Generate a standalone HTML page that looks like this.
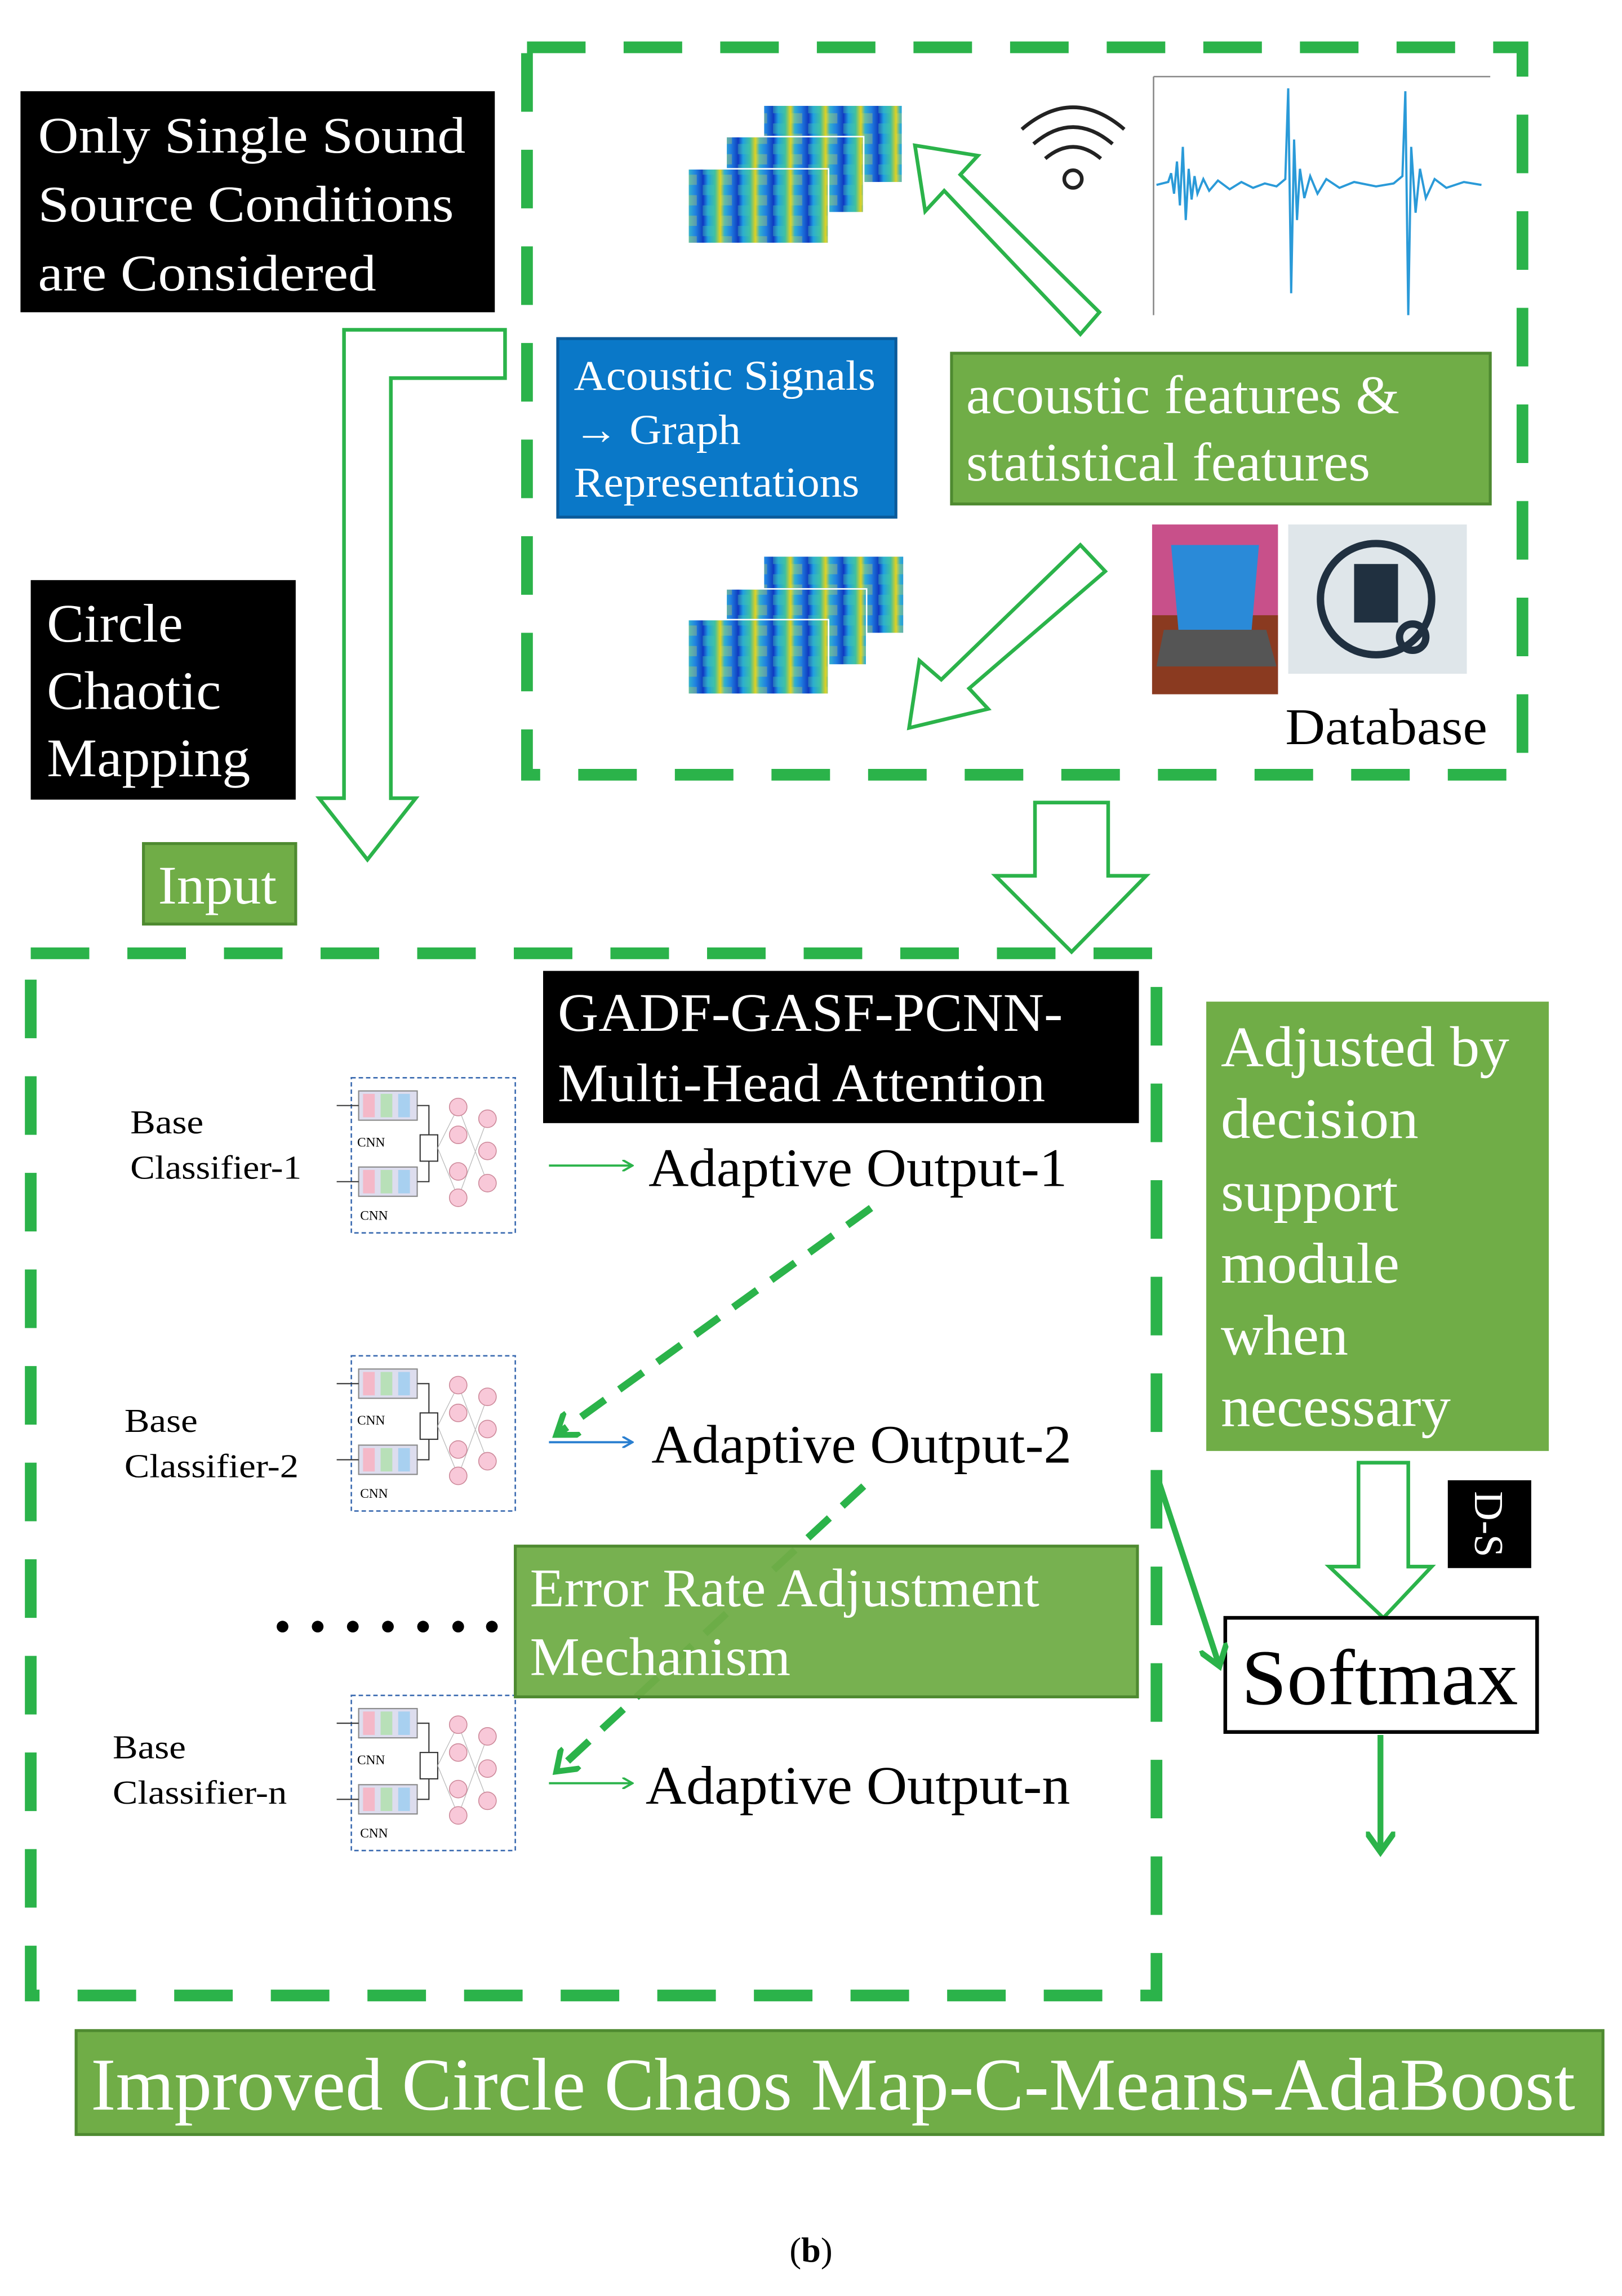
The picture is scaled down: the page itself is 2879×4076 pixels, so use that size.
<!DOCTYPE html>
<html><head><meta charset="utf-8"><style>
html,body{margin:0;padding:0;background:#fff;}
svg{display:block;}
text{font-family:"Liberation Serif",serif;}
</style></head><body>
<svg width="2879" height="4076" viewBox="0 0 1108 1568" xmlns="http://www.w3.org/2000/svg">
<defs>
<linearGradient id="sp" x1="0" y1="0" x2="1" y2="0">
<stop offset="0" stop-color="#1030c0"/><stop offset="0.15" stop-color="#20a0e0"/><stop offset="0.35" stop-color="#40c0a0"/><stop offset="0.5" stop-color="#e0d020"/><stop offset="0.62" stop-color="#30b0d0"/><stop offset="0.8" stop-color="#2080e0"/><stop offset="1" stop-color="#1040c0"/>
</linearGradient>
<pattern id="sp2" width="24" height="14" patternUnits="userSpaceOnUse">
<rect width="24" height="14" fill="url(#sp)"/><rect width="8" height="7" fill="#40c8b0" opacity="0.4"/><rect x="12" y="7" width="8" height="7" fill="#e0e040" opacity="0.3"/>
</pattern>
<marker id="ah" markerWidth="8" markerHeight="8" refX="6" refY="4" orient="auto" markerUnits="userSpaceOnUse"><path d="M0,0 L7,4 L0,8" fill="none" stroke="#2bb34a" stroke-width="1.5"/></marker>
<marker id="ahb" markerWidth="8" markerHeight="8" refX="6" refY="4" orient="auto" markerUnits="userSpaceOnUse"><path d="M0,0 L7,4 L0,8" fill="none" stroke="#2a7fd0" stroke-width="1.5"/></marker>
<marker id="ahg" markerWidth="20" markerHeight="20" refX="14" refY="10" orient="auto" markerUnits="userSpaceOnUse"><path d="M0,0 L14,10 L0,20" fill="none" stroke="#2bb34a" stroke-width="4"/></marker>
</defs>

<rect x="360" y="32" width="680" height="497" fill="none" stroke="#2bb34a" stroke-width="8" stroke-dasharray="40,26"/>
<rect x="21" y="651" width="769" height="712" fill="none" stroke="#2bb34a" stroke-width="8" stroke-dasharray="40,26"/>

<rect x="14" y="62" width="324" height="151" fill="#000"/>
<g fill="#fff" font-size="35" lengthAdjust="spacingAndGlyphs">
<text x="26" y="104" textLength="292" lengthAdjust="spacingAndGlyphs">Only Single Sound</text>
<text x="26" y="151" textLength="284" lengthAdjust="spacingAndGlyphs">Source Conditions</text>
<text x="26" y="198" textLength="231" lengthAdjust="spacingAndGlyphs">are Considered</text>
</g>

<polygon points="345,225 235,225 235,545 218,545 251,587 284,545 267,545 267,258 345,258" fill="#fff" stroke="#2bb34a" stroke-width="2.5"/>

<rect x="21" y="396" width="181" height="150" fill="#000"/>
<g fill="#fff" font-size="37">
<text x="32" y="438" textLength="93" lengthAdjust="spacingAndGlyphs">Circle</text>
<text x="32" y="484" textLength="119" lengthAdjust="spacingAndGlyphs">Chaotic</text>
<text x="32" y="530" textLength="139" lengthAdjust="spacingAndGlyphs">Mapping</text>
</g>

<rect x="98" y="576" width="104" height="55" fill="#70ad47" stroke="#4e8a30" stroke-width="2"/>
<text x="108" y="617" fill="#fff" font-size="37" textLength="81" lengthAdjust="spacingAndGlyphs">Input</text>

<rect x="522" y="72" width="94" height="52" fill="url(#sp2)"/>
<rect x="496" y="93" width="94" height="52" fill="url(#sp2)" stroke="#fff" stroke-width="1"/>
<rect x="470" y="115" width="96" height="51" fill="url(#sp2)" stroke="#fff" stroke-width="1"/>
<rect x="522" y="380" width="95" height="52" fill="url(#sp2)"/>
<rect x="496" y="402" width="96" height="52" fill="url(#sp2)" stroke="#fff" stroke-width="1"/>
<rect x="470" y="423" width="96" height="51" fill="url(#sp2)" stroke="#fff" stroke-width="1"/>

<g fill="none" stroke="#222" stroke-width="2.5">
<path d="M698,88 Q733,58 768,88"/><path d="M706,98 Q733,75 760,98"/><path d="M714,108 Q733,92 752,108"/>
<circle cx="733" cy="122" r="6"/>
</g>

<g stroke="#888" stroke-width="1" fill="none"><line x1="788" y1="52" x2="788" y2="215"/><line x1="788" y1="52" x2="1018" y2="52"/></g>
<path d="M790,126 L798,124 L800,118 L802,132 L804,110 L806,140 L808,100 L810,150 L812,115 L814,136 L816,120 L818,132 L822,122 L826,130 L832,123 L840,129 L848,124 L856,128 L864,125 L872,127 L878,122 L880,60 L882,200 L884,95 L886,150 L888,115 L891,135 L895,120 L900,132 L906,122 L915,128 L925,124 L940,127 L952,125 L958,120 L960,62 L962,215 L964,100 L967,145 L970,115 L974,135 L980,122 L988,128 L1000,124 L1012,126" fill="none" stroke="#2a9ad8" stroke-width="1.5"/>

<polygon points="751,213 738,228 645,130 632,144 625,99 668,106 656,119" fill="#fff" stroke="#2bb34a" stroke-width="2.5"/>
<polygon points="738,372 755,390 662,470 675,484 621,497 628,451 643,464" fill="#fff" stroke="#2bb34a" stroke-width="2.5"/>

<rect x="381" y="231" width="231" height="122" fill="#0a78c8" stroke="#0a5a9a" stroke-width="2"/>
<g fill="#fff" font-size="29">
<text x="392" y="266" textLength="206" lengthAdjust="spacingAndGlyphs">Acoustic Signals</text>
<text x="392" y="303" textLength="114" lengthAdjust="spacingAndGlyphs">→ Graph</text>
<text x="392" y="339" textLength="195" lengthAdjust="spacingAndGlyphs">Representations</text>
</g>

<rect x="650" y="241" width="368" height="103" fill="#70ad47" stroke="#4e8a30" stroke-width="2"/>
<g fill="#fff" font-size="37">
<text x="660" y="282" textLength="296" lengthAdjust="spacingAndGlyphs">acoustic features &amp;</text>
<text x="660" y="328" textLength="276" lengthAdjust="spacingAndGlyphs">statistical features</text>
</g>

<rect x="787" y="358" width="86" height="116" fill="#c8508a"/>
<rect x="787" y="420" width="86" height="54" fill="#8a3a20"/>
<polygon points="800,372 860,372 855,430 805,430" fill="#2a8ad8"/>
<polygon points="795,430 865,430 872,455 790,455" fill="#555"/>
<rect x="880" y="358" width="122" height="102" fill="#dfe6ea"/>
<circle cx="940" cy="409" r="38" fill="none" stroke="#203040" stroke-width="5"/>
<rect x="925" y="385" width="30" height="40" fill="#203040"/>
<circle cx="965" cy="435" r="9" fill="none" stroke="#203040" stroke-width="5"/>
<text x="878" y="508" fill="#000" font-size="35" textLength="138" lengthAdjust="spacingAndGlyphs">Database</text>

<polygon points="707,548 757,548 757,598 783,598 732,650 680,598 707,598" fill="#fff" stroke="#2bb34a" stroke-width="2.5"/>

<rect x="371" y="663" width="407" height="104" fill="#000"/>
<g fill="#fff" font-size="37">
<text x="381" y="704" textLength="345" lengthAdjust="spacingAndGlyphs">GADF-GASF-PCNN-</text>
<text x="381" y="752" textLength="333" lengthAdjust="spacingAndGlyphs">Multi-Head Attention</text>
</g>

<g font-size="23" fill="#000">
<text x="89" y="774" textLength="50" lengthAdjust="spacingAndGlyphs">Base</text><text x="89" y="805" textLength="117" lengthAdjust="spacingAndGlyphs">Classifier-1</text>
<text x="85" y="978" textLength="50" lengthAdjust="spacingAndGlyphs">Base</text><text x="85" y="1009" textLength="119" lengthAdjust="spacingAndGlyphs">Classifier-2</text>
<text x="77" y="1201" textLength="50" lengthAdjust="spacingAndGlyphs">Base</text><text x="77" y="1232" textLength="119" lengthAdjust="spacingAndGlyphs">Classifier-n</text>
</g>
<g id="cls">
<rect x="240" y="736" width="112" height="106" fill="none" stroke="#3a6ab0" stroke-width="1" stroke-dasharray="3,2"/>
<rect x="245" y="745" width="40" height="20" fill="#dde" stroke="#888" stroke-width="0.8"/>
<rect x="248" y="747" width="8" height="16" fill="#f4b8c8"/><rect x="260" y="747" width="8" height="16" fill="#b8e0b8"/><rect x="272" y="747" width="8" height="16" fill="#a8d0f0"/>
<rect x="245" y="797" width="40" height="20" fill="#dde" stroke="#888" stroke-width="0.8"/>
<rect x="248" y="799" width="8" height="16" fill="#f4b8c8"/><rect x="260" y="799" width="8" height="16" fill="#b8e0b8"/><rect x="272" y="799" width="8" height="16" fill="#a8d0f0"/>
<text x="244" y="783" font-size="9">CNN</text><text x="246" y="833" font-size="9">CNN</text>
<path d="M230,755 L245,755 M230,807 L245,807 M285,755 L293,755 L293,775 M285,807 L293,807 L293,793" stroke="#333" stroke-width="0.8" fill="none"/>
<rect x="287" y="775" width="12" height="18" fill="#fff" stroke="#333" stroke-width="0.8"/>
<g stroke="#bbb" stroke-width="0.5"><line x1="299" y1="784" x2="313" y2="756"/><line x1="299" y1="784" x2="313" y2="818"/><line x1="313" y1="756" x2="333" y2="808"/><line x1="313" y1="818" x2="333" y2="764"/></g>
<g fill="#f8c8d8" stroke="#c89" stroke-width="0.6"><circle cx="313" cy="756" r="6"/><circle cx="313" cy="775" r="6"/><circle cx="313" cy="800" r="6"/><circle cx="313" cy="818" r="6"/><circle cx="333" cy="764" r="6"/><circle cx="333" cy="786" r="6"/><circle cx="333" cy="808" r="6"/></g>
</g>
<use href="#cls" y="190"/>
<use href="#cls" y="422"/>

<line x1="375" y1="796" x2="431" y2="796" stroke="#2bb34a" stroke-width="1.5" marker-end="url(#ah)"/>
<line x1="375" y1="985" x2="431" y2="985" stroke="#2a7fd0" stroke-width="1.5" marker-end="url(#ahb)"/>
<line x1="375" y1="1218" x2="431" y2="1218" stroke="#2bb34a" stroke-width="1.5" marker-end="url(#ah)"/>
<g font-size="37" fill="#000">
<text x="443" y="810" textLength="286" lengthAdjust="spacingAndGlyphs">Adaptive Output-1</text>
<text x="445" y="999" textLength="287" lengthAdjust="spacingAndGlyphs">Adaptive Output-2</text>
<text x="441" y="1232" textLength="290" lengthAdjust="spacingAndGlyphs">Adaptive Output-n</text>
</g>

<line x1="595" y1="825" x2="380" y2="980" stroke="#2bb34a" stroke-width="5" stroke-dasharray="20,12" marker-end="url(#ahg)"/>
<line x1="590" y1="1015" x2="380" y2="1210" stroke="#2bb34a" stroke-width="5" stroke-dasharray="20,12" marker-end="url(#ahg)"/>

<rect x="352" y="1056" width="425" height="103" fill="#70ad47" fill-opacity="0.95" stroke="#4e8a30" stroke-width="2"/>
<g fill="#fff" font-size="37">
<text x="362" y="1097" textLength="348" lengthAdjust="spacingAndGlyphs">Error Rate Adjustment</text>
<text x="362" y="1144" textLength="178" lengthAdjust="spacingAndGlyphs">Mechanism</text>
</g>

<g fill="#000"><circle cx="193" cy="1111" r="4"/><circle cx="217" cy="1111" r="4"/><circle cx="241" cy="1111" r="4"/><circle cx="265" cy="1111" r="4"/><circle cx="289" cy="1111" r="4"/><circle cx="313" cy="1111" r="4"/><circle cx="336" cy="1111" r="4"/></g>

<rect x="824" y="684" width="234" height="307" fill="#70ad47"/>
<g fill="#fff" font-size="39">
<text x="834" y="728" textLength="197" lengthAdjust="spacingAndGlyphs">Adjusted by</text>
<text x="834" y="777" textLength="135" lengthAdjust="spacingAndGlyphs">decision</text>
<text x="834" y="827" textLength="121" lengthAdjust="spacingAndGlyphs">support</text>
<text x="834" y="876" textLength="122" lengthAdjust="spacingAndGlyphs">module</text>
<text x="834" y="925" textLength="87" lengthAdjust="spacingAndGlyphs">when</text>
<text x="834" y="974" textLength="157" lengthAdjust="spacingAndGlyphs">necessary</text>
</g>

<polygon points="928,999 962,999 962,1070 978,1070 945,1105 908,1070 928,1070" fill="#fff" stroke="#2bb34a" stroke-width="2.5"/>

<rect x="989" y="1011" width="57" height="60" fill="#000"/>
<text transform="translate(1017,1041) rotate(90)" x="0" y="0" fill="#fff" font-size="28" text-anchor="middle" dominant-baseline="central">D-S</text>

<rect x="837" y="1105" width="213" height="78" fill="#fff" stroke="#000" stroke-width="2.5"/>
<text x="848" y="1164" font-size="54" fill="#000" textLength="189" lengthAdjust="spacingAndGlyphs">Softmax</text>

<line x1="790" y1="1007" x2="833" y2="1138" stroke="#2bb34a" stroke-width="4" marker-end="url(#ahg)"/>
<line x1="943" y1="1185" x2="943" y2="1265" stroke="#2bb34a" stroke-width="4" marker-end="url(#ahg)"/>

<rect x="52" y="1387" width="1043" height="71" fill="#70ad47" stroke="#4e8a30" stroke-width="2"/>
<text x="62" y="1441" fill="#fff" font-size="51" textLength="1014" lengthAdjust="spacingAndGlyphs">Improved Circle Chaos Map-C-Means-AdaBoost</text>

<text x="554" y="1545" font-size="24" text-anchor="middle" fill="#000">(<tspan font-weight="bold">b</tspan>)</text>
</svg>
</body></html>
